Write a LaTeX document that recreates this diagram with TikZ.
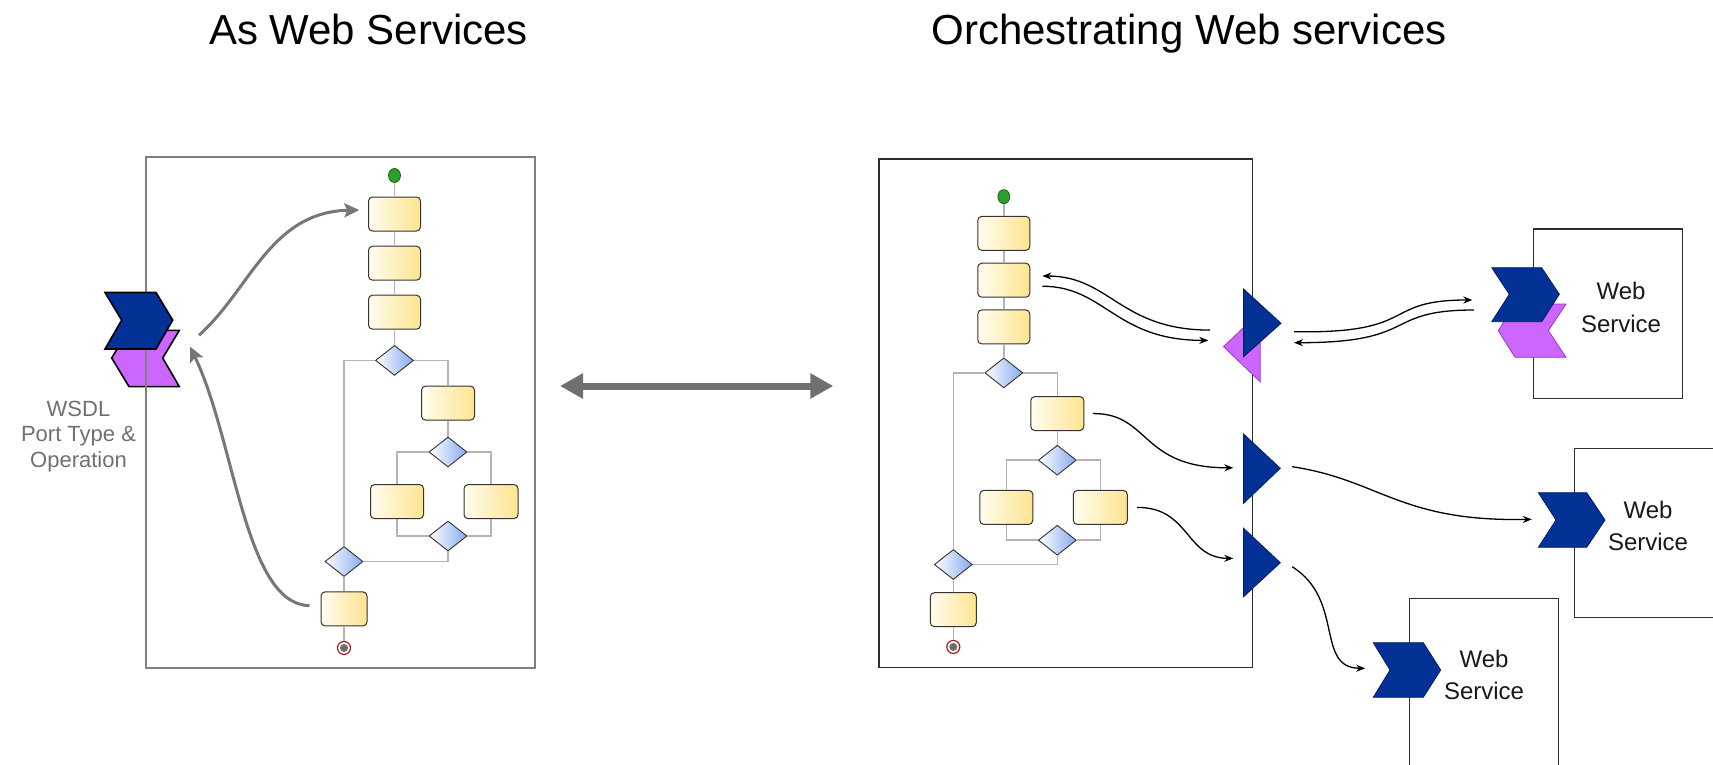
\documentclass[tikz,border=0pt]{standalone}
\usepackage{fontspec}
\setmainfont{Liberation Sans}
\usetikzlibrary{arrows.meta,shapes.geometric,calc}

\definecolor{taskL}{HTML}{FFFDF0}
\definecolor{taskR}{HTML}{FDE48E}
\definecolor{taskline}{HTML}{333333}
\definecolor{gateR}{HTML}{86AAF0}
\definecolor{wireC}{HTML}{B4B4B4}
\definecolor{arrowC}{HTML}{777777}
\definecolor{navy}{HTML}{033196}
\definecolor{navyline}{HTML}{021E66}
\definecolor{violet}{HTML}{CC66FF}
\definecolor{violetline}{HTML}{9933CC}
\definecolor{startG}{HTML}{2CA02C}
\definecolor{endR}{HTML}{B01818}
\definecolor{endG}{HTML}{6E6E6E}
\definecolor{labelgray}{HTML}{707070}
\definecolor{frameGray}{HTML}{808080}
\definecolor{frameDark}{HTML}{2E2E2E}

% one process flow: start, three tasks, a split with a nested split, join, last task, end
\newcommand\procflow[1]{%
  \node[startdot] (#1s)  at (394.5,175.5) {};
  \node[task,minimum width=52pt] (#1b1) at (394.5,214) {};
  \node[task,minimum width=52pt] (#1b2) at (394.5,263.2) {};
  \node[task,minimum width=52pt] (#1b3) at (394.5,312.2) {};
  \node[gate] (#1d1) at (394.5,360.4) {};
  \node[task,minimum width=53pt] (#1b4) at (448,403.1) {};
  \node[gate] (#1d2) at (448,452) {};
  \node[task,minimum width=53pt] (#1b5) at (397,501.6) {};
  \node[task,minimum width=54pt] (#1b6) at (491,501.6) {};
  \node[gate] (#1d3) at (448,536) {};
  \node[gate] (#1d4) at (344,561.5) {};
  \node[task,minimum width=46pt] (#1b7) at (344,608.9) {};
  \node[enddot] (#1e) at (344,648) {};
  \draw[wire] (#1s) -- (#1b1);
  \draw[wire] (#1b1) -- (#1b2);
  \draw[wire] (#1b2) -- (#1b3);
  \draw[wire] (#1b3) -- (#1d1);
  \draw[wire] (#1d1.west) -| (#1d4.north);
  \draw[wire] (#1d1.east) -| (#1b4.north);
  \draw[wire] (#1b4) -- (#1d2);
  \draw[wire] (#1d2.west) -| (#1b5.north);
  \draw[wire] (#1d2.east) -| (#1b6.north);
  \draw[wire] (#1b5.south) |- (#1d3.west);
  \draw[wire] (#1b6.south) |- (#1d3.east);
  \draw[wire] (#1d3.south) |- (#1d4.east);
  \draw[wire] (#1d4) -- (#1b7);
  \draw[wire] (#1b7) -- (#1e);
}

\begin{document}
\begin{tikzpicture}[x=1pt,y=-1pt,
  task/.style={rectangle, rounded corners=4pt, draw=taskline, line width=1pt,
    left color=taskL, right color=taskR, minimum height=34pt, inner sep=0pt},
  gate/.style={diamond, draw=taskline, line width=0.9pt, left color=white,
    right color=gateR, minimum width=38pt, minimum height=30pt, inner sep=0pt},
  startdot/.style={ellipse, draw=green!30!black, fill=startG, line width=0.6pt,
    minimum width=12pt, minimum height=14pt, inner sep=0pt},
  enddot/.style={circle, draw=endR, fill=white, line width=1.2pt, minimum size=13pt,
    inner sep=0pt, path picture={\fill[endG] (path picture bounding box.center) circle (4pt);}},
  wire/.style={draw=wireC, line width=1.5pt},
  grayarrow/.style={draw=arrowC, line width=3pt, -{Stealth[length=15pt,width=14pt,inset=3pt]}},
  msg/.style={draw=black, line width=1.3pt, -{Stealth[length=9pt,width=7pt]}},
  bothways/.style={draw=labelgray, line width=7pt,
    {Triangle[length=23pt,width=24pt]}-{Triangle[length=23pt,width=24pt]}},
  titletext/.style={font=\fontsize{42pt}{50pt}\selectfont, anchor=base, inner sep=0pt},
  wsdltext/.style={font=\fontsize{22pt}{25.3pt}\selectfont, text=labelgray, align=center, inner sep=0pt},
  wslabel/.style={font=\fontsize{24pt}{32.5pt}\selectfont, text=black!90, align=center, inner sep=0pt},
  wsbox/.style={draw=frameDark, line width=1.4pt},
  chevblue/.style={fill=navy, draw=navyline, line width=0.8pt, line join=miter},
  chevviolet/.style={fill=violet, draw=violetline, line width=0.8pt, line join=miter},
]
\useasboundingbox (0,0) rectangle (1713,765);
\fill[white] (0,0) rectangle (1713,765);

% headings
\node[titletext] (headL) at (368.5,45) {As Web Services};
\node[titletext] (headR) at (1189,45) {Orchestrating Web services};

% ---------- left: process exposed as a web service ----------
\fill[violet] (128.3,330.4) -- (179.3,330.4) -- (162.7,358) -- (179.3,386.6)
  -- (129,386.6) -- (111.7,358) -- cycle;
\draw[black, line width=1.6pt, line join=miter] (128.3,330.4) -- (179.3,330.4) -- (162.7,358)
  -- (179.3,386.6) -- (129,386.6) -- (111.7,358) -- cycle;
\draw[frameGray, line width=2pt] (146,156.5) rectangle (535.3,668);
\filldraw[fill=navy, draw=black, line width=1.6pt, line join=miter] (105,292.5) -- (156,292.5)
  -- (172.7,320.1) -- (156,349) -- (105,349) -- (121.7,320.1) -- cycle;

\node[wsdltext] (wsdl) at (78.5,436.4) {WSDL\\Port Type \&\\Operation};

\procflow{L}

\coordinate (wsdlOut) at (199,335.2);
\coordinate (wsdlIn) at (190,346.6);
\draw[grayarrow] (wsdlOut) .. controls (250,290) and (270,212) .. ($(Lb1.west)+(-8.7,-4)$);
\draw[grayarrow] ($(Lb7.west)+(-11,-3.3)$) .. controls (245,605) and (235,440) .. (wsdlIn);

% ---------- middle: equivalence ----------
\coordinate (eqL) at (560,386);
\coordinate (eqR) at (833.3,386);
\draw[bothways] (eqL) -- (eqR);

% ---------- right: process orchestrating web services ----------
\draw[frameDark, line width=1.5pt] (879,159) rectangle (1252.5,667.5);
\begin{scope}[shift={(609.3,29.4)}, yscale=0.953]
  \procflow{R}
\end{scope}

% partner ports on the process boundary
\draw[chevviolet] (1223.5,346.7) -- (1260.2,311.7) -- (1260.2,381.7) -- cycle;
\draw[chevblue] (1243.6,289) -- (1281,323.3) -- (1243.6,356.7) -- cycle;
\draw[chevblue] (1243.6,434) -- (1280.3,468.3) -- (1243.6,503.3) -- cycle;
\draw[chevblue] (1243.6,528.3) -- (1280.3,562.7) -- (1243.6,596.7) -- cycle;

% web services
\draw[wsbox] (1533.3,229) rectangle (1682.3,398.3);
\draw[wsbox] (1713,448.3) -| (1574.3,617.3) -- (1713,617.3);
\draw[wsbox] (1409.3,765) |- (1558.3,598.3) -- (1558.3,765);

\draw[chevviolet] (1515,304) -- (1566,304) -- (1548.3,330.7) -- (1566,357.3)
  -- (1515,357.3) -- (1498.3,330.7) -- cycle;
\draw[chevblue] (1491.7,267.7) -- (1541.7,267.7) -- (1559.3,294.3) -- (1541.7,321.7)
  -- (1491.7,321.7) -- (1509.3,294.3) -- cycle;
\draw[chevblue] (1538.3,492.7) -- (1586.7,492.7) -- (1605,520) -- (1586.7,547.3)
  -- (1538.3,547.3) -- (1556,520) -- cycle;
\draw[chevblue] (1373.3,642.7) -- (1423.3,642.7) -- (1440.7,670) -- (1423.3,697.3)
  -- (1373.3,697.3) -- (1390,670) -- cycle;

\node[wslabel] (ws1) at (1621,307.5) {Web\\Service};
\node[wslabel] (ws2) at (1648,526) {Web\\Service};
\node[wslabel] (ws3) at (1484,675) {Web\\Service};

% message flows
\coordinate (p1a) at (1210,330.1);
\coordinate (p1b) at (1208.3,340.4);
\coordinate (q1a) at (1294,331.7);
\coordinate (q1b) at (1472.3,300);
\coordinate (q1c) at (1474,310);
\coordinate (q1d) at (1294,342.7);
\coordinate (p2) at (1233.3,467.8);
\coordinate (q2a) at (1292.2,466.7);
\coordinate (q2b) at (1531.8,519.3);
\coordinate (p3) at (1233.3,558.4);
\coordinate (q3a) at (1292.2,566.7);
\coordinate (q3b) at (1365.2,668.3);

\draw[msg] (p1a) .. controls (1120,330) and (1110,276) .. ($(Rb2.east)+(12,-4.2)$);
\draw[msg] ($(Rb2.east)+(12,6)$) .. controls (1105,286.3) and (1115,340.4) .. (p1b);
\draw[msg] (q1a) .. controls (1420,334) and (1380,300) .. (q1b);
\draw[msg] (q1c) .. controls (1382,310) and (1420,342.7) .. (q1d);
\draw[msg] ($(Rb4.east)+(8.5,0)$) .. controls (1150,413) and (1140,468) .. (p2);
\draw[msg] ($(Rb6.east)+(9,0)$) .. controls (1190,507) and (1185,558) .. (p3);
\draw[msg] (q2a) .. controls (1380,480) and (1400,522) .. (q2b);
\draw[msg] (q3a) .. controls (1345,600) and (1315,668) .. (q3b);
\end{tikzpicture}
\end{document}
